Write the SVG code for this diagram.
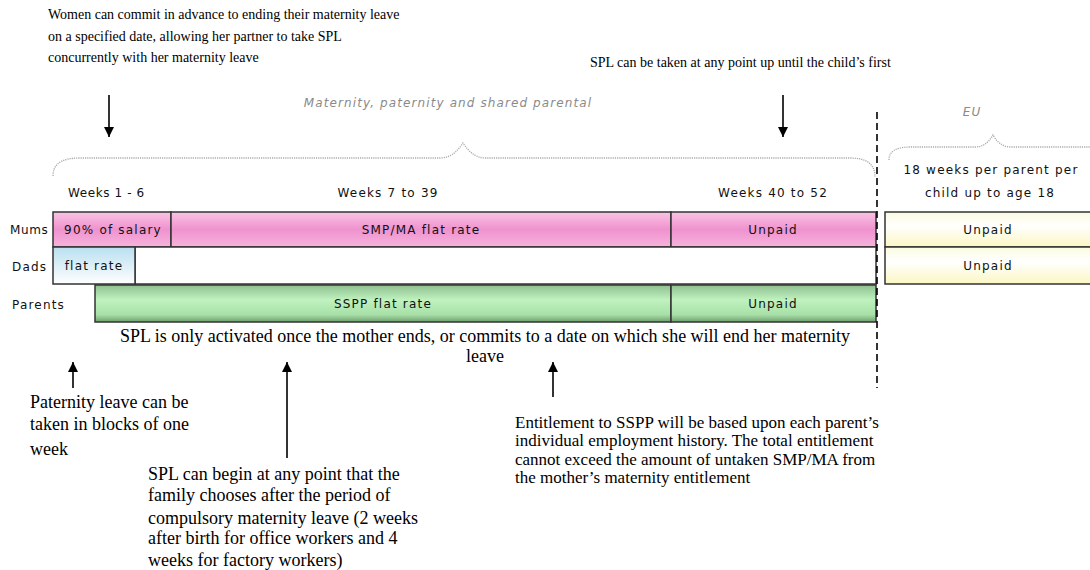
<svg xmlns="http://www.w3.org/2000/svg" width="1090" height="570" viewBox="0 0 1090 570">
<style>
.serif{font-family:"Liberation Serif","Times New Roman",serif;font-size:14px;fill:#000}
.big{font-size:18px}
.ent{font-size:17px}
.sans{font-family:"DejaVu Sans",Verdana,sans-serif;font-size:12px;letter-spacing:1.2px;fill:#111}
.mid{text-anchor:middle}
.gray{font-family:"DejaVu Sans",Verdana,sans-serif;font-size:12px;font-style:italic;fill:#8a8a8a;letter-spacing:1.1px}
.bar{stroke:#333;stroke-width:1.5}
.brace{fill:none;stroke:#aaa;stroke-width:1.3;stroke-dasharray:1.2 1}
.arrow{stroke:#000;stroke-width:1.6;fill:none;marker-end:url(#ah)}
</style>
<defs>
<marker id="ah" markerUnits="userSpaceOnUse" markerWidth="10" markerHeight="10" refX="10" refY="5" orient="auto"><path d="M0,0 L10,5 L0,10 z" fill="#000"/></marker>
<linearGradient id="pink" x1="0" y1="0" x2="0" y2="1"><stop offset="0" stop-color="#f9c3e3"/><stop offset="0.5" stop-color="#ef92cf"/><stop offset="1" stop-color="#f6b4dc"/></linearGradient>
<linearGradient id="green" x1="0" y1="0" x2="0" y2="1"><stop offset="0" stop-color="#8fbf8f"/><stop offset="0.4" stop-color="#bff2bf"/><stop offset="0.8" stop-color="#a8e0a8"/><stop offset="1" stop-color="#6f9f6f"/></linearGradient>
<linearGradient id="blue" x1="0" y1="0" x2="0" y2="1"><stop offset="0" stop-color="#b9dff0"/><stop offset="1" stop-color="#ffffff"/></linearGradient>
<linearGradient id="yellow" x1="0" y1="0" x2="0" y2="1"><stop offset="0" stop-color="#fbfbe0"/><stop offset="0.4" stop-color="#ffffff"/><stop offset="1" stop-color="#fbf7c2"/></linearGradient>
</defs>
<rect width="1090" height="570" fill="#fff"/>

<g id="note-top-left">
<text class="serif" x="48" y="19">Women can commit in advance to ending their maternity leave</text>
<text class="serif" x="48" y="41">on a specified date, allowing her partner to take SPL</text>
<text class="serif" x="48" y="62">concurrently with her maternity leave</text>
</g>
<g id="note-top-right">
<text class="serif" x="590" y="67">SPL can be taken at any point up until the child’s first</text>
</g>

<g id="brace-uk">
<path class="brace" d="M53,176 C53,165 60,158 80,158 L440,158 C452,158 458,150 463,143 C468,150 474,158 486,158 L850,158 C868,158 875,165 875,177"/>
<text class="gray mid" x="448" y="107">Maternity, paternity and shared parental</text>
</g>
<g id="brace-eu">
<path class="brace" d="M889,160 C889,152 895,147 910,147 L975,147 C985,147 990,140 993,135 C996,140 1001,147 1011,147 L1092,147"/>
<text class="gray mid" x="972" y="116">EU</text>
</g>

<g id="week-labels">
<text class="sans" x="68" y="197" style="letter-spacing:0.6px">Weeks 1 - 6</text>
<text class="sans mid" x="388" y="197">Weeks 7 to 39</text>
<text class="sans mid" x="773" y="197">Weeks 40 to 52</text>
<text class="sans mid" x="991" y="174">18 weeks per parent per</text>
<text class="sans mid" x="990" y="197">child up to age 18</text>
</g>

<g id="row-labels">
<text class="sans" x="10" y="234" style="letter-spacing:0.6px">Mums</text>
<text class="sans" x="12" y="271">Dads</text>
<text class="sans" x="12" y="309">Parents</text>
</g>

<g id="mums-90">
<rect class="bar" x="53" y="212" width="118" height="35" fill="url(#pink)"/>
<text class="sans mid" x="113" y="234">90% of salary</text>
</g>
<g id="mums-smp">
<rect class="bar" x="171" y="212" width="500" height="35" fill="url(#pink)"/>
<text class="sans mid" x="421" y="234">SMP/MA flat rate</text>
</g>
<g id="mums-unpaid">
<rect class="bar" x="671" y="212" width="205" height="35" fill="url(#pink)"/>
<text class="sans mid" x="773" y="234">Unpaid</text>
</g>

<g id="dads-empty">
<rect class="bar" x="135" y="247" width="741" height="37" fill="#fff"/>
</g>
<g id="dads-flat">
<rect class="bar" x="53" y="247" width="82" height="37" fill="url(#blue)"/>
<text class="sans mid" x="94" y="270">flat rate</text>
</g>

<g id="parents-sspp">
<rect class="bar" x="95" y="285" width="576" height="37" fill="url(#green)"/>
<text class="sans mid" x="383" y="308">SSPP flat rate</text>
</g>
<g id="parents-unpaid">
<rect class="bar" x="671" y="285" width="205" height="37" fill="url(#green)"/>
<text class="sans mid" x="773" y="308">Unpaid</text>
</g>

<g id="eu-unpaid-1">
<rect class="bar" x="885" y="212" width="210" height="35" fill="url(#yellow)"/>
<text class="sans mid" x="988" y="234">Unpaid</text>
</g>
<g id="eu-unpaid-2">
<rect class="bar" x="885" y="247" width="210" height="37" fill="url(#yellow)"/>
<text class="sans mid" x="988" y="270">Unpaid</text>
</g>

<g id="note-spl-activated">
<text class="serif big mid" x="485" y="342">SPL is only activated once the mother ends, or commits to a date on which she will end her maternity</text>
<text class="serif big mid" x="485" y="362">leave</text>
</g>

<g id="note-paternity">
<text class="serif big" x="30" y="408">Paternity leave can be</text>
<text class="serif big" x="30" y="430">taken in blocks of one</text>
<text class="serif big" x="30" y="455">week</text>
</g>

<g id="note-spl-begin">
<text class="serif big" x="148" y="480">SPL can begin at any point that the</text>
<text class="serif big" x="148" y="501">family chooses after the period of</text>
<text class="serif big" x="148" y="524">compulsory maternity leave (2 weeks</text>
<text class="serif big" x="148" y="544">after birth for office workers and 4</text>
<text class="serif big" x="148" y="566">weeks for factory workers)</text>
</g>

<g id="note-entitlement">
<text class="serif ent" x="515" y="428">Entitlement to SSPP will be based upon each parent’s</text>
<text class="serif ent" x="515" y="446">individual employment history. The total entitlement</text>
<text class="serif ent" x="515" y="465">cannot exceed the amount of untaken SMP/MA from</text>
<text class="serif ent" x="515" y="483">the mother’s maternity entitlement</text>
</g>

<g id="connectors">
<line x1="877" y1="112" x2="877" y2="388" stroke="#000" stroke-width="1.6" stroke-dasharray="7 4"/>
<line class="arrow" x1="109" y1="95" x2="109" y2="137"/>
<line class="arrow" x1="783" y1="95" x2="783" y2="137"/>
<line class="arrow" x1="73" y1="388" x2="73" y2="362"/>
<line class="arrow" x1="287" y1="458" x2="287" y2="362"/>
<line class="arrow" x1="553" y1="397" x2="553" y2="362"/>
</g>
</svg>
